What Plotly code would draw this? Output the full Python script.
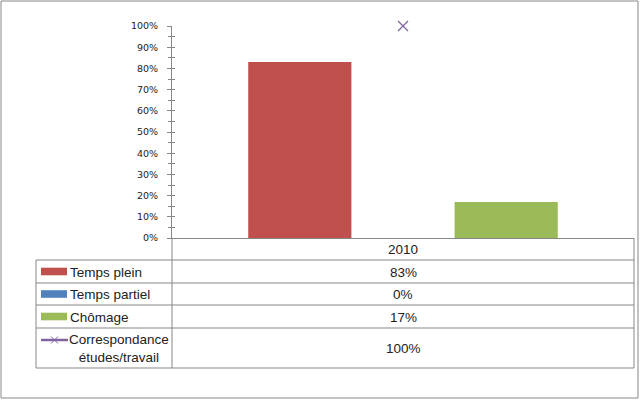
import plotly.graph_objects as go

categories = ["2010"]
temps_plein = [0.83]
temps_partiel = [0.0]
chomage = [0.17]
correspondance = [1.00]
series_names = ["Temps plein", "Temps partiel", "Chômage", "Correspondance<br>études/travail"]
y_ticks = [i / 10 for i in range(11)]
y_tick_labels = [f"{int(round(v * 100))}%" for v in y_ticks]

W, H = 640, 400
L, R, T, B = 172, 634, 26, 238  # plot area in pixels


def px(x):
    return (x - L) / (R - L)


def py(y):
    return (B - y) / (B - T)


RED, BLUE, GREEN, PURPLE = "#C0504D", "#4F81BD", "#9BBB59", "#8064A2"
GRID = "#878787"
FONT_T = "Liberation Sans"
TS = 13.5

fig = go.Figure()
fig.add_trace(go.Bar(x=categories, y=temps_plein, name="Temps plein", marker_color=RED, marker_line_width=0))
fig.add_trace(go.Bar(x=categories, y=temps_partiel, name="Temps partiel", marker_color=BLUE, marker_line_width=0))
fig.add_trace(go.Bar(x=categories, y=chomage, name="Chômage", marker_color=GREEN, marker_line_width=0))
fig.add_trace(go.Scatter(x=categories, y=correspondance, mode="markers", name="Correspondance", cliponaxis=False,
                         marker=dict(symbol="x-thin", size=10, line=dict(color=PURPLE, width=1.3))))
# invisible trace on overlay axis (for ticks crossing the axis line)
fig.add_trace(go.Scatter(x=categories, y=[None], yaxis="y2", mode="markers", showlegend=False,
                         hoverinfo="skip", marker=dict(opacity=0)))

shapes = []
annotations = []

def hline(x0, x1, y):
    shapes.append(dict(type="line", xref="paper", yref="paper", x0=px(x0), x1=px(x1), y0=py(y), y1=py(y),
                       line=dict(color=GRID, width=1)))

def vline(x, y0, y1):
    shapes.append(dict(type="line", xref="paper", yref="paper", x0=px(x), x1=px(x), y0=py(y0), y1=py(y1),
                       line=dict(color=GRID, width=1)))

# outer chart border
shapes.append(dict(type="rect", xref="paper", yref="paper", x0=px(1), x1=px(638), y0=py(1), y1=py(398),
                   line=dict(color=GRID, width=1)))

# data table grid
row_edges = [260, 283, 305, 328, 368]
for y in row_edges:
    hline(36, 634, y)
vline(36, 260, 368)
vline(172, 238, 368)
vline(634, 238, 368)

# header
annotations.append(dict(xref="paper", yref="paper", x=px(403), y=py(249.5), text=categories[0], showarrow=False,
                        font=dict(family=FONT_T, size=TS, color="#222"), xanchor="center", yanchor="middle"))

values = [temps_plein[0], temps_partiel[0], chomage[0], correspondance[0]]
colors = [RED, BLUE, GREEN]
for i, (name, val) in enumerate(zip(series_names, values)):
    yc = (row_edges[i] + row_edges[i + 1]) / 2
    annotations.append(dict(xref="paper", yref="paper", x=px(403), y=py(yc + 0.5), text=f"{val:.0%}",
                            showarrow=False, font=dict(family=FONT_T, size=TS, color="#222"),
                            xanchor="center", yanchor="middle"))
    if i < 3:
        shapes.append(dict(type="rect", xref="paper", yref="paper", x0=px(41), x1=px(67), y0=py(yc - 3.8),
                           y1=py(yc + 3.8), line=dict(width=0), fillcolor=colors[i]))
        annotations.append(dict(xref="paper", yref="paper", x=px(68), y=py(yc + 0.5), text=name, showarrow=False,
                                font=dict(family=FONT_T, size=TS, color="#222"), xanchor="left", yanchor="middle"))
    else:
        ky = 340
        shapes.append(dict(type="line", xref="paper", yref="paper", x0=px(41), x1=px(68), y0=py(ky), y1=py(ky),
                           line=dict(color=PURPLE, width=2.5)))
        cx = 54.5
        for dy in (-3.5, 3.5):
            shapes.append(dict(type="line", xref="paper", yref="paper", x0=px(cx - 3.5), x1=px(cx + 3.5),
                               y0=py(ky - dy), y1=py(ky + dy), line=dict(color=PURPLE, width=1)))
        annotations.append(dict(xref="paper", yref="paper", x=px(119), y=py(yc), text=name, showarrow=False,
                                font=dict(family=FONT_T, size=TS, color="#222"), xanchor="center",
                                yanchor="middle", align="center"))

fig.update_layout(
    width=W, height=H,
    margin=dict(l=L, r=W - R, t=T, b=H - B, pad=0),
    paper_bgcolor="white", plot_bgcolor="white",
    showlegend=False,
    barmode="group", bargap=0.33, bargroupgap=0,
    shapes=shapes, annotations=annotations,
    xaxis=dict(showticklabels=False, showline=True, linecolor=GRID, linewidth=1, ticks="",
               showgrid=False, zeroline=False, range=[-0.5, 0.5], fixedrange=True),
    yaxis=dict(range=[0, 1], tickvals=y_ticks, ticktext=y_tick_labels, showline=True, linecolor=GRID,
               linewidth=1, ticks="outside", ticklen=4, tickcolor=GRID, showgrid=False, zeroline=False,
               ticklabelstandoff=7,
               tickfont=dict(family="DejaVu Sans", size=9.5, color="#222"),
               minor=dict(dtick=0.05, ticks="outside", ticklen=3, tickcolor=GRID, showgrid=False)),
    yaxis2=dict(range=[0, 1], overlaying="y", side="left", anchor="x", tickvals=y_ticks, showticklabels=False,
                showline=False, ticks="inside", ticklen=3, tickcolor=GRID, showgrid=False, zeroline=False,
                minor=dict(dtick=0.05, ticks="inside", ticklen=3, tickcolor=GRID, showgrid=False)),
)

fig.write_html("out.html", config={"displayModeBar": False},
               post_script="document.body.style.margin='0';document.body.style.overflow='hidden';")
